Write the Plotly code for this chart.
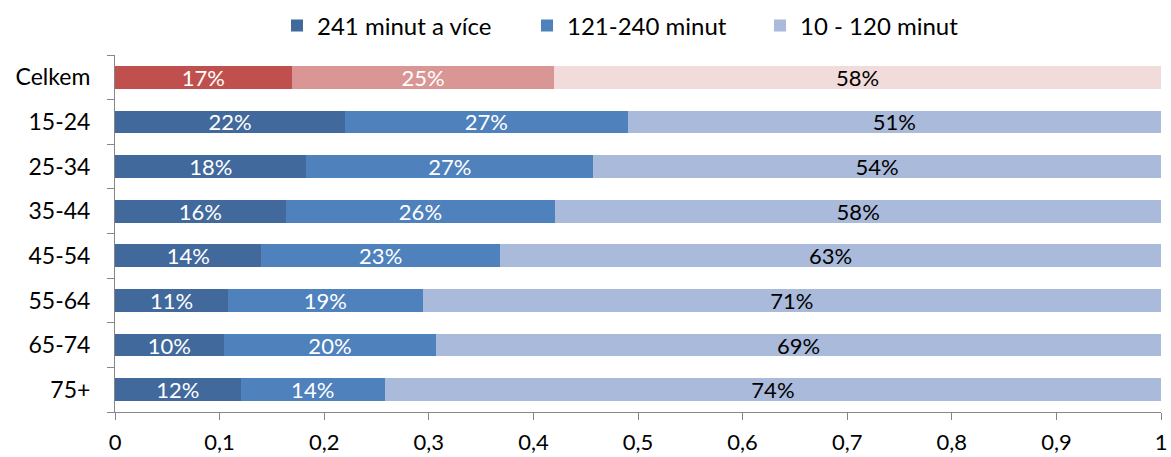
import plotly.graph_objects as go

# Data (top-to-bottom order in the chart)
categories = ["Celkem", "15-24", "25-34", "35-44", "45-54", "55-64", "65-74", "75+"]
series_names = ["241 minut a více", "121-240 minut", "10 - 120 minut"]
long_vals = [0.169, 0.22, 0.183, 0.163, 0.14, 0.108, 0.104, 0.12]
mid_vals = [0.251, 0.27, 0.274, 0.258, 0.228, 0.186, 0.203, 0.138]
short_vals = [0.58, 0.51, 0.543, 0.579, 0.632, 0.706, 0.693, 0.742]

blue_colors = ["#41699B", "#4F81BD", "#AABADA"]
red_colors = ["#C0504D", "#D99694", "#F2DCDB"]
text_colors = ["white", "white", "black"]
legend_ids = ["legend", "legend2", "legend3"]
legend_text_x = [317, 567, 800]  # pixel x where each legend text starts

W, H = 1171, 457

# plotly draws categories bottom-to-top; reverse so first point is a blue bar
cats_r = categories[::-1]
series = [long_vals[::-1], mid_vals[::-1], short_vals[::-1]]

fig = go.Figure()
for i, (name, vals) in enumerate(zip(series_names, series)):
    colors = [red_colors[i] if c == "Celkem" else blue_colors[i] for c in cats_r]
    fig.add_trace(go.Bar(
        y=cats_r, x=vals, name=name, orientation="h",
        marker=dict(color=colors, line=dict(width=0)),
        text=[f"{round(v * 100)}%" for v in vals],
        textposition="inside", insidetextanchor="middle",
        textfont=dict(color=text_colors[i], size=22),
        hoverinfo="skip", legend=legend_ids[i], showlegend=True,
    ))

legend_common = dict(orientation="h", xref="container", yref="container",
                     y=1 - 26 / H, yanchor="middle", xanchor="left",
                     font=dict(size=24), itemwidth=30, borderwidth=0,
                     bgcolor="rgba(0,0,0,0)", visible=True)
layout_legends = {}
for lid, tx in zip(legend_ids, legend_text_x):
    layout_legends[lid] = dict(legend_common, x=(tx - 40) / W)

fig.update_layout(
    showlegend=True,
    barmode="stack",
    bargap=0.49,
    width=W, height=H,
    margin=dict(l=115, r=10, t=55, b=45, autoexpand=False),
    paper_bgcolor="white", plot_bgcolor="white",
    font=dict(family="Lato", size=23, color="black"),
    separators=", ",
    uniformtext=dict(minsize=22, mode="show"),
    xaxis=dict(range=[0, 1], dtick=0.1, showgrid=False, zeroline=False,
               showline=True, linecolor="#868686", linewidth=1,
               ticks="outside", ticklen=7, tickcolor="#868686",
               tickfont=dict(size=22), automargin=False, ticklabelstandoff=4),
    yaxis=dict(showgrid=False, zeroline=False, showline=True, linecolor="#868686",
               linewidth=1, ticks="outside", ticklen=7, tickcolor="#868686",
               tickson="boundaries", tickfont=dict(size=23), automargin=False,
               ticklabelstandoff=19),
    **layout_legends,
)

fig.write_html("out.html", config={"displayModeBar": False},
               post_script="document.body.style.margin='0';document.body.style.overflow='hidden';")
